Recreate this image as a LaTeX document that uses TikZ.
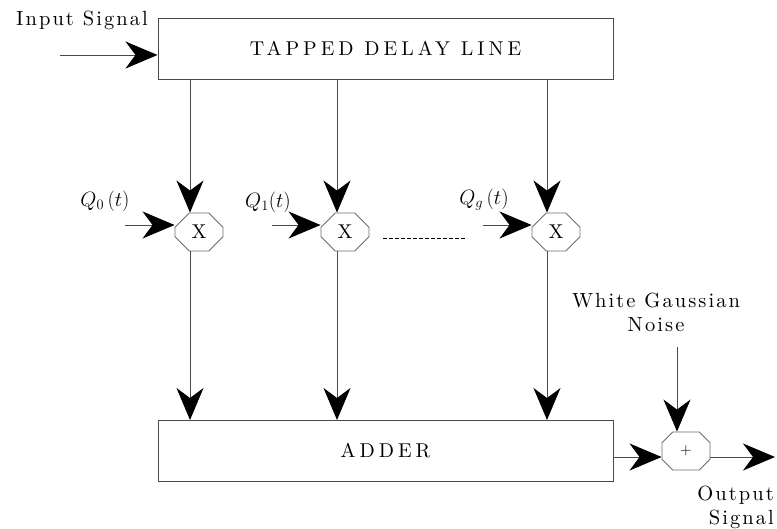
\documentclass[tikz,border=0pt]{standalone}
\usepackage{fontspec}
\setmainfont{lmroman10-regular}[Extension=.otf]
\newfontfamily\lblfont{lmroman10-regular}[Extension=.otf,LetterSpace=10]
\newfontfamily\blkfont{lmroman10-regular}[Extension=.otf,LetterSpace=20]
\usepackage{tikz}
\usetikzlibrary{arrows.meta,shapes.misc}
\definecolor{wire}{HTML}{4A4A4A}

\begin{document}
\begin{tikzpicture}[x=1pt,y=-1pt,
    lbl/.style={font=\lblfont\fontsize{20.5}{24}\selectfont,inner sep=0pt},
    qlbl/.style={font=\fontsize{20}{24}\selectfont,inner sep=0pt},
    blk/.style={draw=wire,line width=1pt,minimum width=455pt,minimum height=61pt,
                font=\blkfont\fontsize{20}{24}\selectfont},
    octo/.style={draw=wire!80,line width=0.9pt,chamfered rectangle,chamfered rectangle xsep=10pt,
                 chamfered rectangle ysep=10pt,minimum width=48pt,minimum height=38pt,inner sep=0pt,
                 font=\fontsize{20}{24}\selectfont},
    sig/.style={wire,line width=1pt,-{Stealth[length=32pt,width=27pt,inset=10pt,black]}}]
  \fill[white] (0,0) rectangle (777,528);
  \useasboundingbox (0,0) rectangle (777,528);

  % delay line and adder
  \node[blk] (tdl) at (385.5,48.5) {TAPPED DELAY LINE};
  \node[blk] (adder) at (385.5,451) {ADDER};
  \node[lbl] (inlbl) at (82,20) {Input Signal};
  \coordinate (in) at (60,55);
  \draw[sig] (in) -- (in -| tdl.west);

  % taps, multipliers and weights
  \node[octo] (m0) at (199,232) {X};
  \node[octo] (m1) at (345,232) {X};
  \node[octo] (m2) at (556,232) {X};
  \coordinate (tap0) at (190,79);
  \coordinate (tap1) at (337,79);
  \coordinate (tap2) at (547,79);
  \foreach \i in {0,1,2}{
    \draw[sig] (tap\i) -- (tap\i |- m\i.north);
    \draw[sig] (tap\i |- m\i.south) -- (tap\i |- adder.north);
  }
  \node[qlbl] (q0) at (105,201) {$Q_0\,(t)$};
  \node[qlbl] (q1) at (268,202) {$Q_1(t)$};
  \node[qlbl] (q2) at (484,200) {$Q_g\,(t)$};
  \coordinate (w0) at (125,225);
  \coordinate (w1) at (272,225);
  \coordinate (w2) at (483,225);
  \foreach \i in {0,1,2}
    \draw[sig] (w\i) -- (w\i -| m\i.west);
  \coordinate (dotsa) at (383,238);
  \coordinate (dotsb) at (467,238);
  \draw[black,line width=0.8pt,dash pattern=on 3.5pt off 2.5pt] (dotsa) -- (dotsb);

  % noise summer and output
  \node[octo,font=\fontsize{15}{18}\selectfont] (sum) at (686,451) {+};
  \node[lbl,align=center] (noise) at (656,312) {White Gaussian\\Noise};
  \coordinate (nz) at (677,347);
  \draw[sig] (nz) -- (nz |- sum.north);
  \coordinate (out) at (775,457);
  \draw[sig] (adder.east |- out) -- (sum.west |- out);
  \draw[sig] (sum.east |- out) -- (out);
  \node[lbl,align=right,anchor=east] (outlbl) at (774,507) {Output\\Signal};
\end{tikzpicture}
\end{document}
